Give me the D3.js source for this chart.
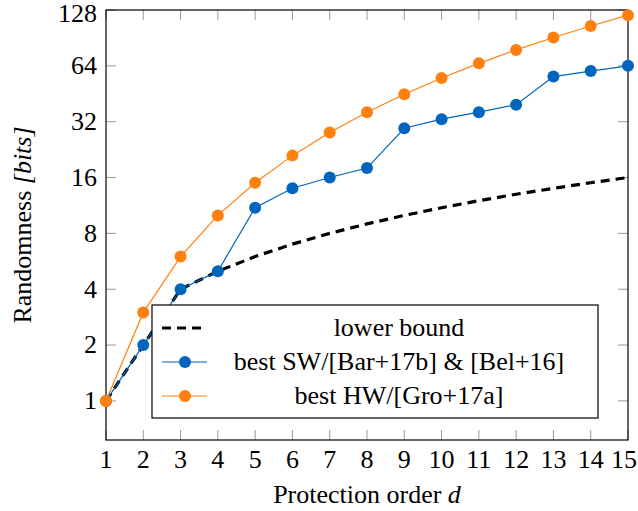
<!DOCTYPE html>
<html>
<head>
<meta charset="utf-8">
<script src="https://cdn.jsdelivr.net/npm/d3@7"></script>
<style>
  body { margin: 0; background: #fff; }
</style>
</head>
<body>
<div id="chart"></div>
<script>
// protection order d
const orders = [1, 2, 3, 4, 5, 6, 7, 8, 9, 10, 11, 12, 13, 14, 15]
// randomness in bits
const lowerBound = [1, 2, 4, 5, 6, 7, 8, 9, 10, 11, 12, 13, 14, 15, 16]
const bestSW = [1, 2, 4, 5, 11, 14, 16, 18, 29.5, 33, 36, 39.5, 56, 60, 64]
const bestHW = [1, 3, 6, 10, 15, 21, 28, 36, 45, 55, 66, 78, 91, 105, 120]
const yTicks = [1, 2, 4, 8, 16, 32, 64, 128]
const legendLabels = ["lower bound", "best SW/[Bar+17b] & [Bel+16]", "best HW/[Gro+17a]"]

const W = 638, H = 511
const margin = {top: 10, right: 10, bottom: 71, left: 106}
const width = W - margin.left - margin.right,
      height = H - margin.top - margin.bottom

const blue = "#0065bd", orange = "#ff800e"
const font = "'Liberation Serif', serif"
const fs = "26px"

const svg = d3.select("#chart").append("svg")
    .attr("width", W).attr("height", H)
  .append("g")
    .attr("transform", "translate(" + margin.left + "," + margin.top + ")")

const x = d3.scaleLinear().domain([1, 15]).range([0, width])
const y = d3.scaleLog().base(2).domain([Math.pow(2, -0.7), 128]).range([height, 0])

function txt(sel) {
  return sel.style("font-family", font).style("font-size", fs).attr("fill", "#000")
}

// inward grey ticks on all four sides
const tickLen = 10
const tickG = svg.append("g").attr("stroke", "#999").attr("stroke-width", 1)
orders.forEach(d => {
  tickG.append("line").attr("x1", x(d)).attr("x2", x(d)).attr("y1", height).attr("y2", height - tickLen)
  tickG.append("line").attr("x1", x(d)).attr("x2", x(d)).attr("y1", 0).attr("y2", tickLen)
})
yTicks.forEach(t => {
  tickG.append("line").attr("x1", 0).attr("x2", tickLen).attr("y1", y(t)).attr("y2", y(t))
  tickG.append("line").attr("x1", width).attr("x2", width - tickLen).attr("y1", y(t)).attr("y2", y(t))
})

// tick labels (edge ones nudged so they stay inside the window)
txt(svg.append("g").selectAll("text")
  .data(orders).enter().append("text")
    .attr("x", d => Math.min(x(d), width + margin.right - 14)).attr("y", height + 28)
    .attr("text-anchor", "middle")
    .text(d => d))

txt(svg.append("g").selectAll("text")
  .data(yTicks).enter().append("text")
    .attr("x", -9).attr("y", d => Math.max(y(d), 4)).attr("dy", "0.32em")
    .attr("text-anchor", "end")
    .text(d => d))

// frame
svg.append("rect")
  .attr("width", width).attr("height", height)
  .attr("fill", "none").attr("stroke", "#000").attr("stroke-width", 1.2)

const line = d3.line().x((v, i) => x(orders[i])).y(v => y(v))

// lower bound
svg.append("path").datum(lowerBound)
  .attr("d", line).attr("fill", "none")
  .attr("stroke", "#000").attr("stroke-width", 3.2)
  .attr("stroke-dasharray", "9,6")

function series(vals, color) {
  svg.append("path").datum(vals)
    .attr("d", line).attr("fill", "none")
    .attr("stroke", color).attr("stroke-width", 1.2)
  svg.append("g").selectAll("circle")
    .data(vals).enter().append("circle")
      .attr("cx", (v, i) => x(orders[i])).attr("cy", v => y(v))
      .attr("r", 6).attr("fill", color)
}
series(bestSW, blue)
series(bestHW, orange)

// legend
const lg = svg.append("g").attr("transform", "translate(" + (152 - margin.left) + "," + (305 - margin.top) + ")")
lg.append("rect").attr("width", 446).attr("height", 113)
  .attr("fill", "#fff").attr("stroke", "#000").attr("stroke-width", 1.2)
const rowsY = [23, 57, 91]
const styles = [{color: "#000", dash: "9,6", sw: 3.2, marker: false},
                {color: blue, dash: null, sw: 1.2, marker: true},
                {color: orange, dash: null, sw: 1.2, marker: true}]
legendLabels.forEach((lab, i) => {
  const s = styles[i]
  lg.append("line").attr("x1", 10).attr("x2", 55).attr("y1", rowsY[i]).attr("y2", rowsY[i])
    .attr("stroke", s.color).attr("stroke-width", s.sw)
    .attr("stroke-dasharray", s.dash)
  if (s.marker) lg.append("circle").attr("cx", 33).attr("cy", rowsY[i]).attr("r", 6).attr("fill", s.color)
  txt(lg.append("text").attr("x", 247).attr("y", rowsY[i]).attr("dy", "0.32em")
    .attr("text-anchor", "middle").text(lab))
})

// axis titles
const xl = txt(svg.append("text")
  .attr("x", width / 2).attr("y", height + 63)
  .attr("text-anchor", "middle"))
xl.append("tspan").text("Protection order ")
xl.append("tspan").style("font-style", "italic").text("d")

const yl = txt(svg.append("text")
  .attr("transform", "translate(" + (-margin.left + 31) + "," + (height / 2) + ") rotate(-90)")
  .attr("text-anchor", "middle"))
yl.append("tspan").text("Randomness ")
yl.append("tspan").style("font-style", "italic").text("[bits]")
</script>
</body>
</html>
